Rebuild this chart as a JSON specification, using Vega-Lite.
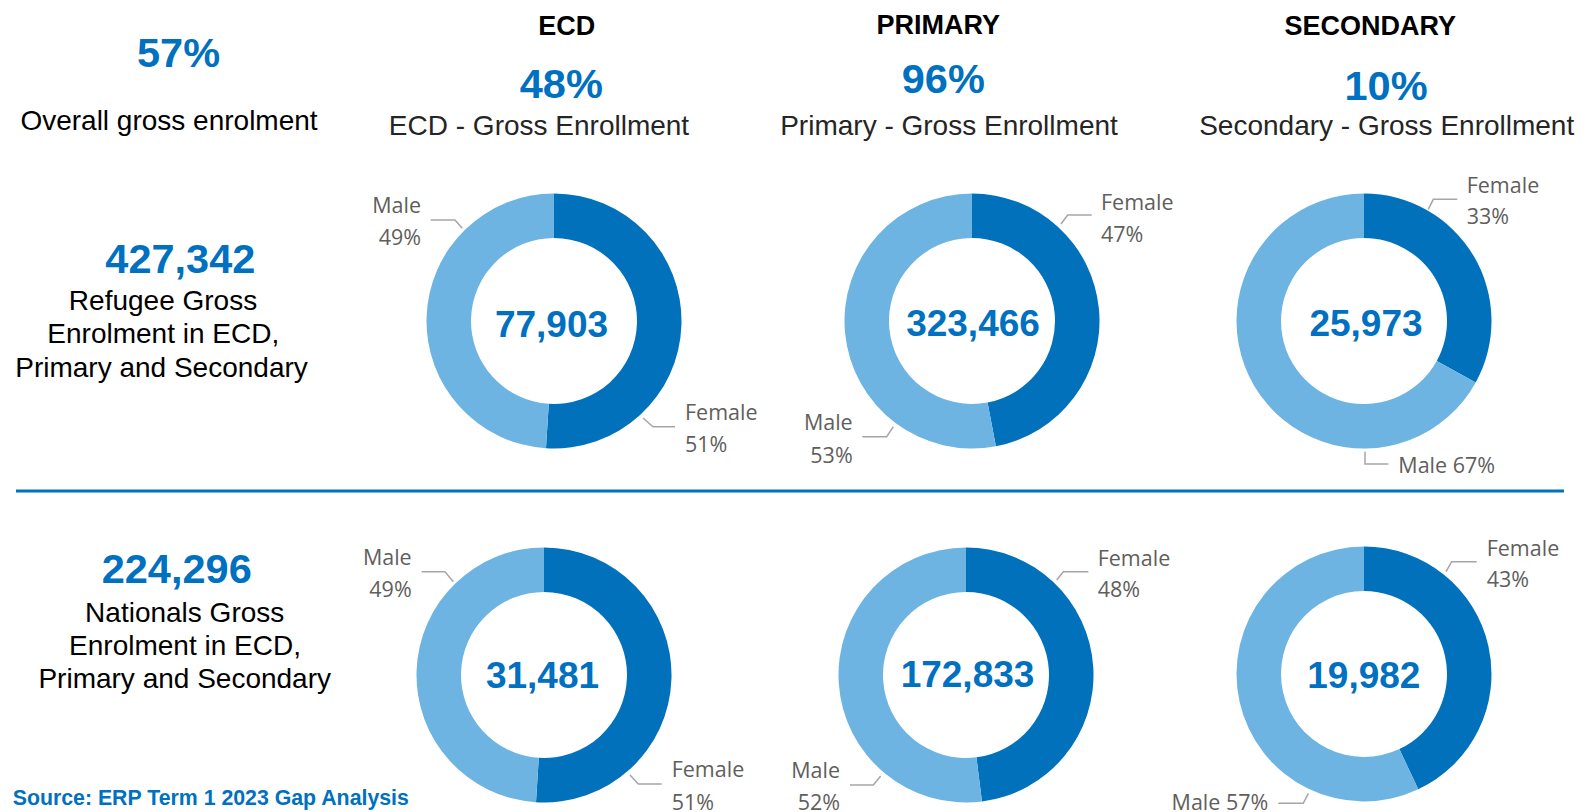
{
  "$schema": "https://vega.github.io/schema/vega-lite/v6.json",
  "width": 1592,
  "height": 812,
  "autosize": {"type": "none"},
  "padding": 0,
  "background": "white",
  "config": {"view": {"stroke": null}},
  "datasets": {
    "donuts": [
      {"donut": "Refugee ECD", "x": 554, "y": 321, "sex": "Female", "pct": 51, "ord": 1},
      {"donut": "Refugee ECD", "x": 554, "y": 321, "sex": "Male", "pct": 49, "ord": 2},
      {"donut": "Refugee Primary", "x": 972, "y": 321, "sex": "Female", "pct": 47, "ord": 1},
      {"donut": "Refugee Primary", "x": 972, "y": 321, "sex": "Male", "pct": 53, "ord": 2},
      {"donut": "Refugee Secondary", "x": 1364, "y": 321, "sex": "Female", "pct": 33, "ord": 1},
      {"donut": "Refugee Secondary", "x": 1364, "y": 321, "sex": "Male", "pct": 67, "ord": 2},
      {"donut": "Nationals ECD", "x": 544, "y": 675, "sex": "Female", "pct": 51, "ord": 1},
      {"donut": "Nationals ECD", "x": 544, "y": 675, "sex": "Male", "pct": 49, "ord": 2},
      {"donut": "Nationals Primary", "x": 966, "y": 675, "sex": "Female", "pct": 48, "ord": 1},
      {"donut": "Nationals Primary", "x": 966, "y": 675, "sex": "Male", "pct": 52, "ord": 2},
      {"donut": "Nationals Secondary", "x": 1364, "y": 674, "sex": "Female", "pct": 43, "ord": 1},
      {"donut": "Nationals Secondary", "x": 1364, "y": 674, "sex": "Male", "pct": 57, "ord": 2}
    ],
    "separator": [{"x": 16, "x2": 1564, "y": 491}],
    "leaders": [
      {"id": 1, "k": 1, "x": 430.7, "y": 220}, {"id": 1, "k": 2, "x": 455, "y": 220}, {"id": 1, "k": 3, "x": 462.3, "y": 228.3},
      {"id": 2, "k": 1, "x": 643, "y": 418}, {"id": 2, "k": 2, "x": 653, "y": 426.7}, {"id": 2, "k": 3, "x": 675, "y": 426.7},
      {"id": 3, "k": 1, "x": 1061, "y": 224}, {"id": 3, "k": 2, "x": 1067.7, "y": 215}, {"id": 3, "k": 3, "x": 1091.7, "y": 215},
      {"id": 4, "k": 1, "x": 862.3, "y": 436.7}, {"id": 4, "k": 2, "x": 886.7, "y": 436.7}, {"id": 4, "k": 3, "x": 893.3, "y": 426.7},
      {"id": 5, "k": 1, "x": 1428.3, "y": 209.3}, {"id": 5, "k": 2, "x": 1433.3, "y": 199.3}, {"id": 5, "k": 3, "x": 1457.3, "y": 199.3},
      {"id": 6, "k": 1, "x": 1365, "y": 451.7}, {"id": 6, "k": 2, "x": 1365, "y": 464}, {"id": 6, "k": 3, "x": 1388.3, "y": 464},
      {"id": 7, "k": 1, "x": 421.7, "y": 571.7}, {"id": 7, "k": 2, "x": 445, "y": 571.7}, {"id": 7, "k": 3, "x": 453.3, "y": 581.7},
      {"id": 8, "k": 1, "x": 630, "y": 775}, {"id": 8, "k": 2, "x": 638.3, "y": 784}, {"id": 8, "k": 3, "x": 661.7, "y": 784},
      {"id": 9, "k": 1, "x": 1056.7, "y": 580}, {"id": 9, "k": 2, "x": 1063.3, "y": 571.7}, {"id": 9, "k": 3, "x": 1088.3, "y": 571.7},
      {"id": 10, "k": 1, "x": 850, "y": 785}, {"id": 10, "k": 2, "x": 873.3, "y": 785}, {"id": 10, "k": 3, "x": 880.7, "y": 776},
      {"id": 11, "k": 1, "x": 1446, "y": 571.7}, {"id": 11, "k": 2, "x": 1451.7, "y": 561.7}, {"id": 11, "k": 3, "x": 1476.7, "y": 561.7},
      {"id": 12, "k": 1, "x": 1278.3, "y": 803.3}, {"id": 12, "k": 2, "x": 1303.3, "y": 803.3}, {"id": 12, "k": 3, "x": 1308.3, "y": 793.3}
    ],
    "headers": [
      {"t": "ECD", "x": 566.7, "y": 35},
      {"t": "PRIMARY", "x": 938.3, "y": 34},
      {"t": "SECONDARY", "x": 1370.3, "y": 35}
    ],
    "bigNumbers": [
      {"t": "57%", "x": 178.5, "y": 66.7},
      {"t": "48%", "x": 561.3, "y": 98.3},
      {"t": "96%", "x": 943.3, "y": 93.3},
      {"t": "10%", "x": 1386, "y": 100},
      {"t": "427,342", "x": 180.3, "y": 273.3},
      {"t": "224,296", "x": 176.7, "y": 583.3}
    ],
    "centerNumbers": [
      {"t": "77,903", "x": 551.5, "y": 336.5},
      {"t": "323,466", "x": 973, "y": 335.7},
      {"t": "25,973", "x": 1366, "y": 336},
      {"t": "31,481", "x": 542.5, "y": 688.3},
      {"t": "172,833", "x": 967.5, "y": 686.7},
      {"t": "19,982", "x": 1363.8, "y": 688.3}
    ],
    "captions": [
      {"t": "Overall gross enrolment", "x": 169, "y": 130},
      {"t": "Refugee Gross", "x": 163, "y": 310},
      {"t": "Enrolment in ECD,", "x": 163.3, "y": 342.7},
      {"t": "Primary and Secondary", "x": 161.5, "y": 376.7},
      {"t": "Nationals Gross", "x": 184.7, "y": 621.7},
      {"t": "Enrolment in ECD,", "x": 185, "y": 655},
      {"t": "Primary and Secondary", "x": 184.7, "y": 688.3}
    ],
    "subCaptions": [
      {"t": "ECD - Gross Enrollment", "x": 539, "y": 135},
      {"t": "Primary - Gross Enrollment", "x": 949, "y": 135},
      {"t": "Secondary - Gross Enrollment", "x": 1386.7, "y": 135}
    ],
    "labelsLeftAligned": [
      {"t": "Female", "x": 685, "y": 420},
      {"t": "51%", "x": 685, "y": 452},
      {"t": "Female", "x": 1101, "y": 210},
      {"t": "47%", "x": 1101, "y": 241.7},
      {"t": "Female", "x": 1466.7, "y": 192.7},
      {"t": "33%", "x": 1466.7, "y": 224},
      {"t": "Male 67%", "x": 1398.3, "y": 472.7},
      {"t": "Female", "x": 1097.7, "y": 565.7},
      {"t": "48%", "x": 1097.7, "y": 597.3},
      {"t": "Female", "x": 1486.7, "y": 555.7},
      {"t": "43%", "x": 1486.7, "y": 586.7},
      {"t": "Female", "x": 671.7, "y": 777.3},
      {"t": "51%", "x": 671.7, "y": 810}
    ],
    "labelsRightAligned": [
      {"t": "Male", "x": 421, "y": 212.7},
      {"t": "49%", "x": 421, "y": 245},
      {"t": "Male", "x": 852.7, "y": 430},
      {"t": "53%", "x": 852.7, "y": 463.3},
      {"t": "Male", "x": 411.7, "y": 565},
      {"t": "49%", "x": 411.7, "y": 597.3},
      {"t": "Male", "x": 840, "y": 778.3},
      {"t": "52%", "x": 840, "y": 810},
      {"t": "Male 57%", "x": 1268.3, "y": 810}
    ],
    "source": [
      {"t": "Source: ERP Term 1 2023 Gap Analysis", "x": 12.7, "y": 805}
    ]
  },
  "encoding": {
    "x": {"field": "x", "type": "quantitative", "scale": {"domain": [0, 1592], "nice": false, "zero": false}, "axis": null},
    "y": {"field": "y", "type": "quantitative", "scale": {"domain": [0, 812], "nice": false, "zero": false, "reverse": true}, "axis": null}
  },
  "layer": [
    {
      "data": {"name": "donuts"},
      "transform": [
        {"stack": "pct", "groupby": ["donut"], "sort": [{"field": "ord", "order": "ascending"}], "as": ["t0", "t1"]}
      ],
      "mark": {"type": "arc", "innerRadius": 83, "outerRadius": 127.5},
      "encoding": {
        "theta": {"field": "t0", "type": "quantitative", "scale": {"domain": [0, 100], "range": [0, 6.283185307]}},
        "theta2": {"field": "t1"},
        "color": {"field": "sex", "type": "nominal", "scale": {"domain": ["Female", "Male"], "range": ["#0171BB", "#6DB4E2"]}, "legend": null}
      }
    },
    {
      "data": {"name": "separator"},
      "mark": {"type": "rule", "color": "#0070C0", "strokeWidth": 3},
      "encoding": {"x2": {"field": "x2"}}
    },
    {
      "data": {"name": "leaders"},
      "mark": {"type": "line", "color": "#A6A6A6", "strokeWidth": 1.5},
      "encoding": {
        "detail": {"field": "id", "type": "nominal"},
        "order": {"field": "k", "type": "quantitative"}
      }
    },
    {
      "data": {"name": "headers"},
      "mark": {"type": "text", "font": "Liberation Sans", "fontWeight": "bold", "fontSize": 27, "color": "#000000", "align": "center", "baseline": "alphabetic"},
      "encoding": {"text": {"field": "t"}}
    },
    {
      "data": {"name": "bigNumbers"},
      "mark": {"type": "text", "font": "Liberation Sans", "fontWeight": "bold", "fontSize": 41.5, "color": "#0070C0", "align": "center", "baseline": "alphabetic"},
      "encoding": {"text": {"field": "t"}}
    },
    {
      "data": {"name": "centerNumbers"},
      "mark": {"type": "text", "font": "Liberation Sans", "fontWeight": "bold", "fontSize": 37, "color": "#0070C0", "align": "center", "baseline": "alphabetic"},
      "encoding": {"text": {"field": "t"}}
    },
    {
      "data": {"name": "captions"},
      "mark": {"type": "text", "font": "Liberation Sans", "fontSize": 28, "color": "#000000", "align": "center", "baseline": "alphabetic"},
      "encoding": {"text": {"field": "t"}}
    },
    {
      "data": {"name": "subCaptions"},
      "mark": {"type": "text", "font": "Liberation Sans", "fontSize": 28, "color": "#252525", "align": "center", "baseline": "alphabetic"},
      "encoding": {"text": {"field": "t"}}
    },
    {
      "data": {"name": "labelsLeftAligned"},
      "mark": {"type": "text", "font": "Open Sans", "fontSize": 21.5, "color": "#605E5C", "align": "left", "baseline": "alphabetic"},
      "encoding": {"text": {"field": "t"}}
    },
    {
      "data": {"name": "labelsRightAligned"},
      "mark": {"type": "text", "font": "Open Sans", "fontSize": 21.5, "color": "#605E5C", "align": "right", "baseline": "alphabetic"},
      "encoding": {"text": {"field": "t"}}
    },
    {
      "data": {"name": "source"},
      "mark": {"type": "text", "font": "Liberation Sans", "fontWeight": "bold", "fontSize": 21.3, "color": "#0070C0", "align": "left", "baseline": "alphabetic"},
      "encoding": {"text": {"field": "t"}}
    }
  ]
}
